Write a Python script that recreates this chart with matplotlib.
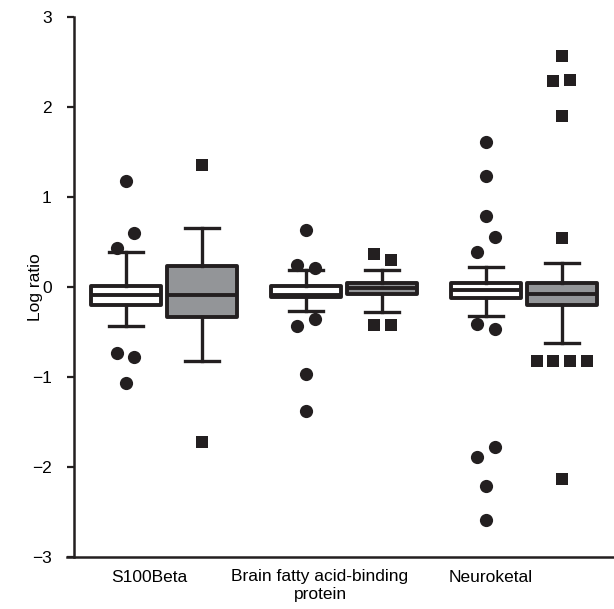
import matplotlib.pyplot as plt
import numpy as np

plt.rcParams['font.family'] = ['Liberation Sans', 'DejaVu Sans']

# categories
groups = ['S100Beta', 'Brain fatty acid-binding\nprotein', 'Neuroketal']

# white boxes (first series)
white_lo = [-0.43, -0.27, -0.32]
white_q1 = [-0.20, -0.11, -0.12]
white_med = [-0.09, -0.09, -0.03]
white_q3 = [0.01, 0.01, 0.04]
white_hi = [0.39, 0.19, 0.22]

# gray boxes (second series)
gray_lo = [-0.82, -0.28, -0.62]
gray_q1 = [-0.33, -0.08, -0.20]
gray_med = [-0.09, -0.01, -0.08]
gray_q3 = [0.23, 0.04, 0.04]
gray_hi = [0.66, 0.19, 0.27]

# outliers
white_out = [[1.18, 0.60, 0.43, -0.73, -0.78, -1.07],
             [0.63, 0.24, 0.21, -0.43, -0.36, -0.97, -1.38],
             [1.61, 1.23, 0.79, 0.56, 0.39, -0.41, -0.47, -1.78, -1.89, -2.21, -2.59]]
gray_out = [[1.36, -1.72],
            [0.37, 0.30, -0.42, -0.42],
            [2.57, 2.29, 2.30, 1.90, 0.54, -0.82, -0.82, -0.82, -0.82, -2.13]]

# horizontal spread of overlapping outliers (pixels)
white_jit = [[0, 8, -9, -9, 8, 0],
             [0, -9, 9, -9, 9, 0, 0],
             [0, 0, 0, 9, -9, -9, 9, 9, -9, 0, 0]]
gray_jit = [[0, 0],
            [-8, 9, -8, 9],
            [0, -9, 8, 0, 0, -25, -9, 8, 25, 0]]

dark = '#231f20'
gray = '#939598'
px = 1 / 180.0  # data units per pixel

fig = plt.figure(figsize=(6.14, 6.09), dpi=100)
ax = fig.add_axes([67 / 614, 1 - 557 / 609, 547 / 614, 540 / 609])

x = np.arange(1, 4)
off = 38 * px

def stats(lo, q1, med, q3, hi):
    return [{'whislo': a, 'q1': b, 'med': c, 'q3': d, 'whishi': e, 'fliers': []}
            for a, b, c, d, e in zip(lo, q1, med, q3, hi)]

for st, pos, fc in [(stats(white_lo, white_q1, white_med, white_q3, white_hi), x - off, 'white'),
                    (stats(gray_lo, gray_q1, gray_med, gray_q3, gray_hi), x + off, gray)]:
    ax.bxp(st, positions=pos, widths=70 * px, capwidths=34 * px, patch_artist=True,
           showfliers=False,
           boxprops=dict(facecolor=fc, edgecolor=dark, linewidth=2.8, joinstyle='round'),
           medianprops=dict(color=dark, linewidth=2.8),
           whiskerprops=dict(color=dark, linewidth=2.4),
           capprops=dict(color=dark, linewidth=2.4))

for i in range(3):
    ax.plot(x[i] - off + np.array(white_jit[i]) * px, white_out[i], 'o',
            color=dark, markersize=9.5, markeredgewidth=0)
    ax.plot(x[i] + off + np.array(gray_jit[i]) * px, gray_out[i], 's',
            color=dark, markersize=9.0, markeredgewidth=0)

ax.set_xlim(0.5 - 7 * px, 0.5 - 7 * px + 547 * px)
ax.set_ylim(-3, 3)
ax.spines['left'].set_position(('data', 0.5))
for s in ['top', 'right']:
    ax.spines[s].set_visible(False)
for s in ['left', 'bottom']:
    ax.spines[s].set_color(dark)
    ax.spines[s].set_linewidth(1.8)

ax.set_yticks([-3, -2, -1, 0, 1, 2, 3])
ax.tick_params(axis='y', length=5, width=1.6, color=dark, pad=11, labelsize=12.5)
ax.set_xticks([0.917, 1.867, 2.817])
ax.set_xticklabels(groups, fontsize=12.5)
ax.tick_params(axis='x', length=0, pad=9)
ax.set_ylabel('Log ratio', fontsize=12.5)
ax.yaxis.set_label_coords(-0.044, 0.5)

fig.savefig('out.png', dpi=100)
